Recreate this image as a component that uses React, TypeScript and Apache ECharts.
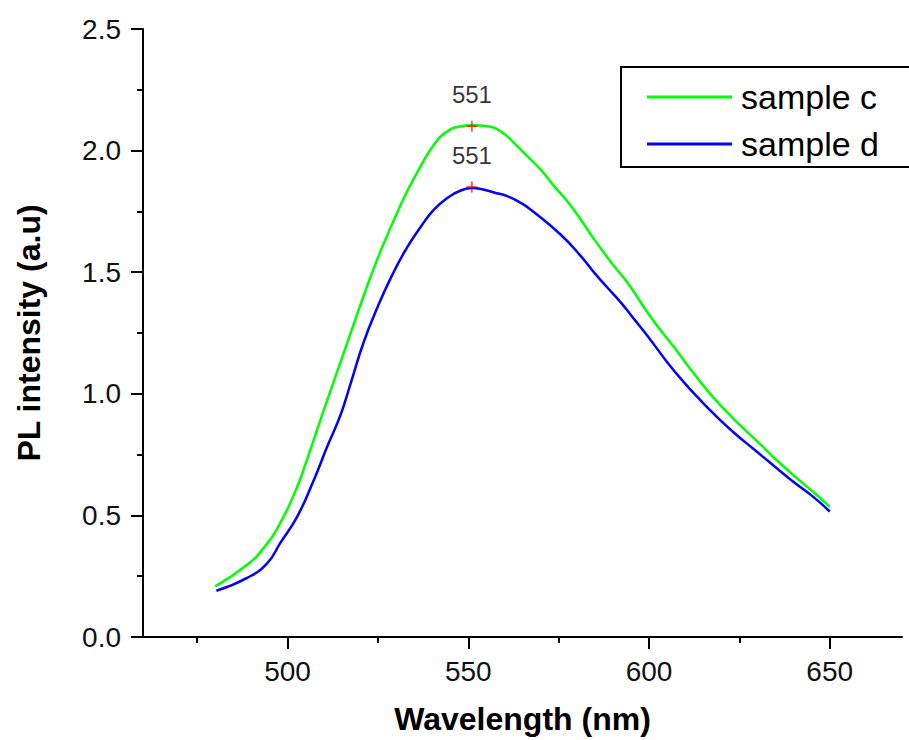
import React, { useEffect, useRef } from "react";
import * as echarts from "echarts";

const cWavelength = [480, 488.8, 493.4, 498.0, 502.7, 505.4, 508.2, 511.0, 513.0, 517, 521, 525, 529, 533, 536.8, 540.5, 544.2, 547.9, 551.2, 555.3, 559.0, 562.7, 566.4, 570.1, 573.8, 577.5, 581.2, 584.9, 590.4, 594.1, 599.7, 603.3, 607.0, 612.6, 618.1, 623.6, 631.0, 634.7, 640.3, 645.8, 650.0];
const cIntensity = [0.208, 0.297, 0.366, 0.469, 0.619, 0.730, 0.853, 0.975, 1.06, 1.23, 1.40, 1.56, 1.70, 1.83, 1.935, 2.024, 2.079, 2.100, 2.104, 2.100, 2.079, 2.031, 1.976, 1.921, 1.853, 1.79, 1.715, 1.634, 1.524, 1.456, 1.332, 1.26, 1.19, 1.08, 0.98, 0.894, 0.79, 0.736, 0.661, 0.592, 0.535];

const dWavelength = [480.3, 488.8, 494.4, 498.0, 502.7, 507.3, 511.0, 514.7, 517.4, 521, 525, 529, 533, 537, 540.5, 544.2, 547.9, 551.2, 553.5, 557.1, 560.9, 564.5, 567.3, 575.6, 581.2, 584.9, 588.6, 592.3, 596.0, 599.7, 605.2, 609.8, 613.5, 618.1, 623.6, 629.1, 634.7, 640.3, 645.8, 650.0];
const dIntensity = [0.19, 0.243, 0.304, 0.387, 0.496, 0.647, 0.784, 0.915, 1.04, 1.21, 1.36, 1.49, 1.60, 1.69, 1.757, 1.805, 1.836, 1.846, 1.842, 1.828, 1.812, 1.785, 1.757, 1.654, 1.565, 1.497, 1.435, 1.374, 1.305, 1.236, 1.127, 1.045, 0.985, 0.915, 0.839, 0.771, 0.702, 0.634, 0.572, 0.516];

const peakWavelength = [551, 551];
const peakIntensity = [2.10, 1.85];
const peakLabels = ["551", "551"];

const seriesNames = ["sample c", "sample d"];
const xMajorTicks = [500, 550, 600, 650];
const xMinorTicks = [475, 525, 575, 625];

const FONT = "'Liberation Sans', Arial, sans-serif";

export default function App() {
  const ref = useRef<HTMLDivElement>(null);
  useEffect(() => {
    if (!ref.current) return;
    const chart = echarts.init(ref.current, undefined, { renderer: "svg" });
    const cData = cWavelength.map((x, i) => [x, cIntensity[i]]);
    const dData = dWavelength.map((x, i) => [x, dIntensity[i]]);
    const peakData = peakWavelength.map((x, i) => ({ value: [x, peakIntensity[i]], label: { formatter: peakLabels[i] } }));
    chart.setOption({
      animation: false,
      backgroundColor: "#ffffff",
      textStyle: { fontFamily: FONT },
      grid: { left: 143, right: 7, top: 29, bottom: 103, containLabel: false },
      legend: {
        data: seriesNames,
        orient: "vertical",
        left: 647,
        top: 80,
        padding: 0,
        itemWidth: 85,
        itemHeight: 3,
        itemGap: 13,
        icon: "rect",
        textStyle: { fontSize: 34, color: "#000", fontFamily: FONT, padding: [0, 0, 0, 4] },
      },
      graphic: [
        {
          type: "rect",
          shape: { x: 621, y: 67, width: 320, height: 100 },
          style: { fill: "none", stroke: "#000", lineWidth: 2 },
          z: 10,
        },
      ],
      xAxis: [
        {
          type: "value",
          min: 460,
          max: 670,
          position: "bottom",
          name: "Wavelength (nm)",
          nameLocation: "middle",
          nameGap: 66,
          nameTextStyle: { fontSize: 32, fontWeight: "bold", color: "#000", fontFamily: FONT },
          axisLine: { show: true, lineStyle: { color: "#000", width: 2 } },
          axisTick: { show: true, length: 12, lineStyle: { color: "#000", width: 2 }, customValues: xMajorTicks },
          axisLabel: { show: true, fontSize: 28, color: "#111", margin: 20, customValues: xMajorTicks, fontFamily: FONT },
          splitLine: { show: false },
        },
        {
          type: "value",
          min: 460,
          max: 670,
          position: "bottom",
          axisLine: { show: false },
          axisTick: { show: true, length: 6, lineStyle: { color: "#000", width: 2 }, customValues: xMinorTicks },
          axisLabel: { show: false },
          splitLine: { show: false },
        },
      ],
      yAxis: {
        type: "value",
        min: 0,
        max: 2.5,
        interval: 0.5,
        name: "PL intensity (a.u)",
        nameLocation: "middle",
        nameRotate: 90,
        nameGap: 98,
        nameTextStyle: { fontSize: 32, fontWeight: "bold", color: "#000", fontFamily: FONT },
        axisLine: { show: true, lineStyle: { color: "#000", width: 2 } },
        axisTick: { show: true, length: 12, lineStyle: { color: "#000", width: 2 } },
        minorTick: { show: true, splitNumber: 2, length: 6, lineStyle: { color: "#000", width: 2 } },
        axisLabel: { fontSize: 28, color: "#111", margin: 22, formatter: (v: number) => v.toFixed(1), fontFamily: FONT },
        splitLine: { show: false },
        minorSplitLine: { show: false },
      },
      series: [
        {
          name: seriesNames[0],
          type: "line",
          data: cData,
          smooth: true,
          symbol: "none",
          lineStyle: { color: "#00ff00", width: 2.5 },
          itemStyle: { color: "#00ff00" },
          z: 2,
        },
        {
          name: seriesNames[1],
          type: "line",
          data: dData,
          smooth: true,
          symbol: "none",
          lineStyle: { color: "#0000ff", width: 2.5 },
          itemStyle: { color: "#0000ff" },
          z: 3,
        },
        {
          name: "peaks",
          type: "scatter",
          data: peakData,
          symbol: "path://M0,5L10,5M5,0L5,10",
          symbolSize: 11,
          itemStyle: { color: "none", borderColor: "#ff0000", borderWidth: 1.5 },
          label: { show: true, position: "top", distance: 12, fontSize: 24, color: "#000", fontFamily: FONT },
          z: 5,
        },
      ],
    });
    return () => chart.dispose();
  }, []);
  return <div ref={ref} style={{ position: "fixed", left: 0, top: 0, width: 909, height: 740 }} />;
}
